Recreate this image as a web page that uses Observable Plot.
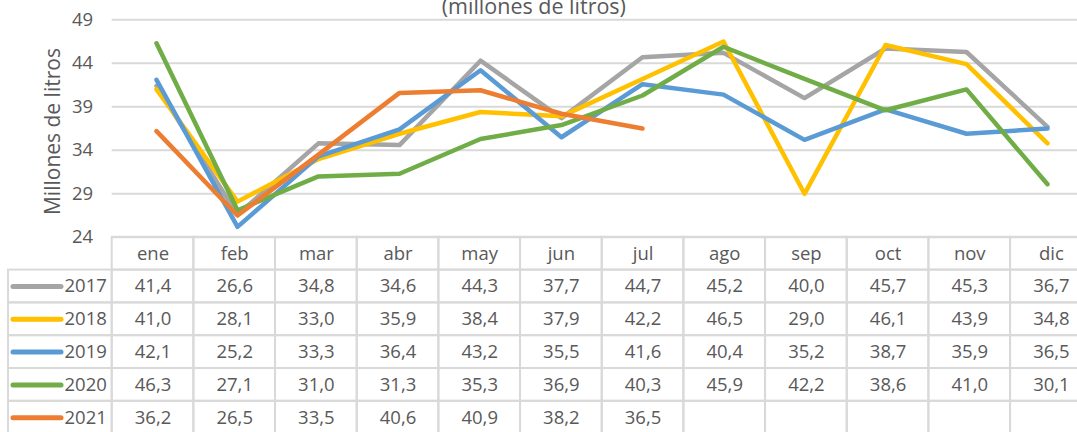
<!DOCTYPE html>
<html><head><meta charset="utf-8">
<script src="https://cdn.jsdelivr.net/npm/d3@7"></script>
<script src="https://cdn.jsdelivr.net/npm/@observablehq/plot@0.6"></script>
<style>
html,body{margin:0;padding:0;background:#fff;overflow:hidden}
#wrap{position:relative;width:1077px;height:432px;overflow:hidden;background:#fff}
#wrap svg{position:absolute;left:0;top:0}
</style></head><body><div id="wrap"></div>
<script>
// ---- data ----
const months = ["ene","feb","mar","abr","may","jun","jul","ago","sep","oct","nov","dic"];
const years = ["2017","2018","2019","2020","2021"];
const v2017 = [41.4,26.6,34.8,34.6,44.3,37.7,44.7,45.2,40.0,45.7,45.3,36.7];
const v2018 = [41.0,28.1,33.0,35.9,38.4,37.9,42.2,46.5,29.0,46.1,43.9,34.8];
const v2019 = [42.1,25.2,33.3,36.4,43.2,35.5,41.6,40.4,35.2,38.7,35.9,36.5];
const v2020 = [46.3,27.1,31.0,31.3,35.3,36.9,40.3,45.9,42.2,38.6,41.0,30.1];
const v2021 = [36.2,26.5,33.5,40.6,40.9,38.2,36.5];
const yTicks = [24,29,34,39,44,49];
const titleText = "(millones de litros)";
const yLabelText = "Millones de litros";
const colors = ["#a5a5a5","#ffc000","#5b9bd5","#70ad47","#ed7d31"];

// ---- derived ----
const series = [v2017, v2018, v2019, v2020, v2021];
const points = years.flatMap((yr, i) => series[i].map((v, j) => ({year: yr, month: months[j], value: v})));
const fmt = v => v.toFixed(1).replace(".", ",");

// ---- layout ----
const W = 1077, H = 432;
const colL = 111.7, colW = 81.67;
const xRange = [colL, colL + 12 * colW];
const plotTop = 19.3, plotBottom = 236.8;
const rowH = 32.8;
const font = "'Open Sans', sans-serif";
const txt = "#595959", grid = "#d9d9d9";

const chart = Plot.plot({
  width: W, height: H,
  marginLeft: colL, marginRight: 0, marginTop: plotTop, marginBottom: H - plotBottom,
  style: {fontFamily: font, fontSize: "18.5px", color: txt, background: "transparent", overflow: "visible"},
  x: {type: "point", domain: months, range: xRange, padding: 0.5, axis: null},
  y: {domain: [24, 49], range: [plotBottom, plotTop], ticks: yTicks, tickSize: 0, tickPadding: 19, label: null},
  color: {domain: years, range: colors},
  marks: [
    Plot.ruleY(yTicks, {stroke: grid, strokeWidth: 2}),
    Plot.line(points, {x: "month", y: "value", stroke: "year", strokeWidth: 4.5, strokeLinecap: "round", strokeLinejoin: "round"}),
    Plot.text([titleText], {frameAnchor: "top", lineAnchor: "middle", dx: -61, dy: -13, fontSize: 21.5, fill: txt}),
    Plot.text([yLabelText], {frameAnchor: "left", textAnchor: "middle", lineAnchor: "middle", rotate: -90, dx: -59, dy: 3, fontSize: 21, fill: txt})
  ]
});

// ---- data table ----
const rows = ["", ...years];
const cells = [];
rows.forEach((r, ri) => {
  for (let j = 0; j < 12; j++) cells.push({x1: j, x2: j + 1, y1: ri, y2: ri + 1});
  if (ri > 0) cells.push({x1: -(colL - 8) / colW, x2: 0, y1: ri, y2: ri + 1});
});
const texts = [];
months.forEach((m, j) => texts.push({x: j + 0.5, y: 0.5, label: m}));
years.forEach((yr, i) => series[i].forEach((v, j) => texts.push({x: j + 0.5, y: i + 1.5, label: fmt(v)})));
const legend = years.map((yr, i) => ({year: yr, y: i + 1.5}));

const table = Plot.plot({
  width: W, height: H,
  margin: 0,
  style: {fontFamily: font, fontSize: "18.5px", color: txt, background: "transparent", overflow: "visible"},
  x: {type: "linear", domain: [0, 12], range: xRange, axis: null},
  y: {type: "linear", domain: [0, 6], range: [plotBottom, plotBottom + 6 * rowH], axis: null},
  color: {domain: years, range: colors},
  marks: [
    Plot.rect(cells, {x1: "x1", x2: "x2", y1: "y1", y2: "y2", fill: "none", stroke: grid, strokeWidth: 2}),
    Plot.text(texts, {x: "x", y: "y", text: "label", fill: txt, fontSize: 18.5}),
    Plot.ruleY(legend, {y: "y", x1: (13 - colL) / colW, x2: (61 - colL) / colW, stroke: "year", strokeWidth: 5, strokeLinecap: "round"}),
    Plot.text(legend, {y: "y", x: (64 - colL) / colW, text: "year", textAnchor: "start", fill: txt, fontSize: 18.5})
  ]
});

const wrap = document.getElementById("wrap");
wrap.appendChild(chart);
wrap.appendChild(table);
</script>
</body></html>
